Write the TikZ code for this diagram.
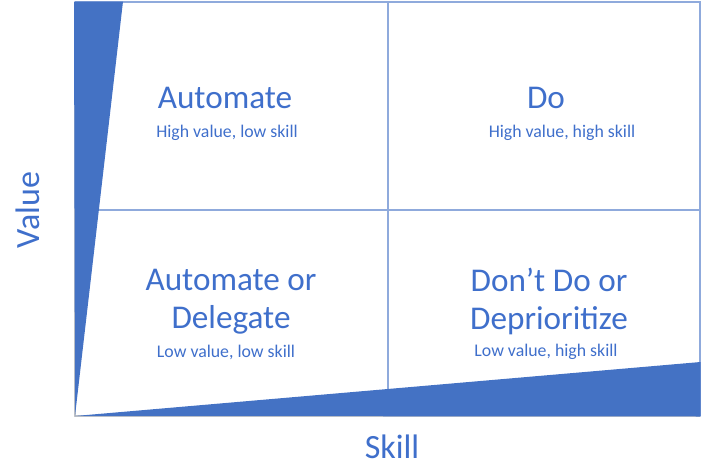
\documentclass[tikz,border=0pt]{standalone}
\usepackage{fontspec}
\setmainfont{Carlito}
\usepackage{xcolor}
\usetikzlibrary{positioning}

\definecolor{qblue}{HTML}{4472C4}
\definecolor{qtext}{HTML}{3F6FCB}
\definecolor{qline}{HTML}{8FAADC}
\definecolor{qaxis}{HTML}{C8C8C8}

\begin{document}
\begin{tikzpicture}[x=0.5pt, y=-0.5pt,
  title/.style={font=\fontsize{16.6}{19}\selectfont, text=qtext, align=center, anchor=base, inner sep=0pt},
  sub/.style={font=\fontsize{8.9}{10}\selectfont, text=qtext, anchor=base, inner sep=0pt},
  axis/.style={font=\fontsize{17}{20}\selectfont, text=qtext, inner sep=0pt}]

  \useasboundingbox (0,0) rectangle (702,466);

  % frame and quadrants
  \coordinate (o)  at (75,416);
  \coordinate (tl) at (75,2);
  \coordinate (tr) at (700,2);
  \coordinate (br) at (700,416);
  \draw[qline, line width=1pt] (tl) -- (tr) -- (br);
  \draw[qaxis, line width=1pt] (tl) -- (o) -- (br);
  \draw[qline, line width=1pt] (388,2) -- (388,416);
  \draw[qline, line width=1.2pt] (75,210) -- (700,210);

  % wedges
  \fill[qblue] (74,1.5) -- (123,1.5) -- (o) -- cycle;
  \fill[qblue] (o) -- (700.5,362) -- (700.5,416.5) -- cycle;

  % quadrant labels
  \node[title] (auto)  at (225,108) {Automate};
  \node[sub]   (autos) at (227,137) {High value, low skill};
  \node[title] (do)    at (546,108) {Do};
  \node[sub]   (dos)   at (562,137) {High value, high skill};
  \node[title] (deleg) at (231,328) {Automate or\\Delegate};
  \node[sub]   (delegs) at (226,357) {Low value, low skill};
  \node[title] (dont)  at (549,329) {Don’t Do or\\Deprioritize};
  \node[sub]   (donts) at (546,356) {Low value, high skill};

  % axes
  \node[axis, rotate=90] (value) at (28,210) {Value};
  \node[axis, anchor=base] (skill) at (392,458) {Skill};
\end{tikzpicture}
\end{document}
